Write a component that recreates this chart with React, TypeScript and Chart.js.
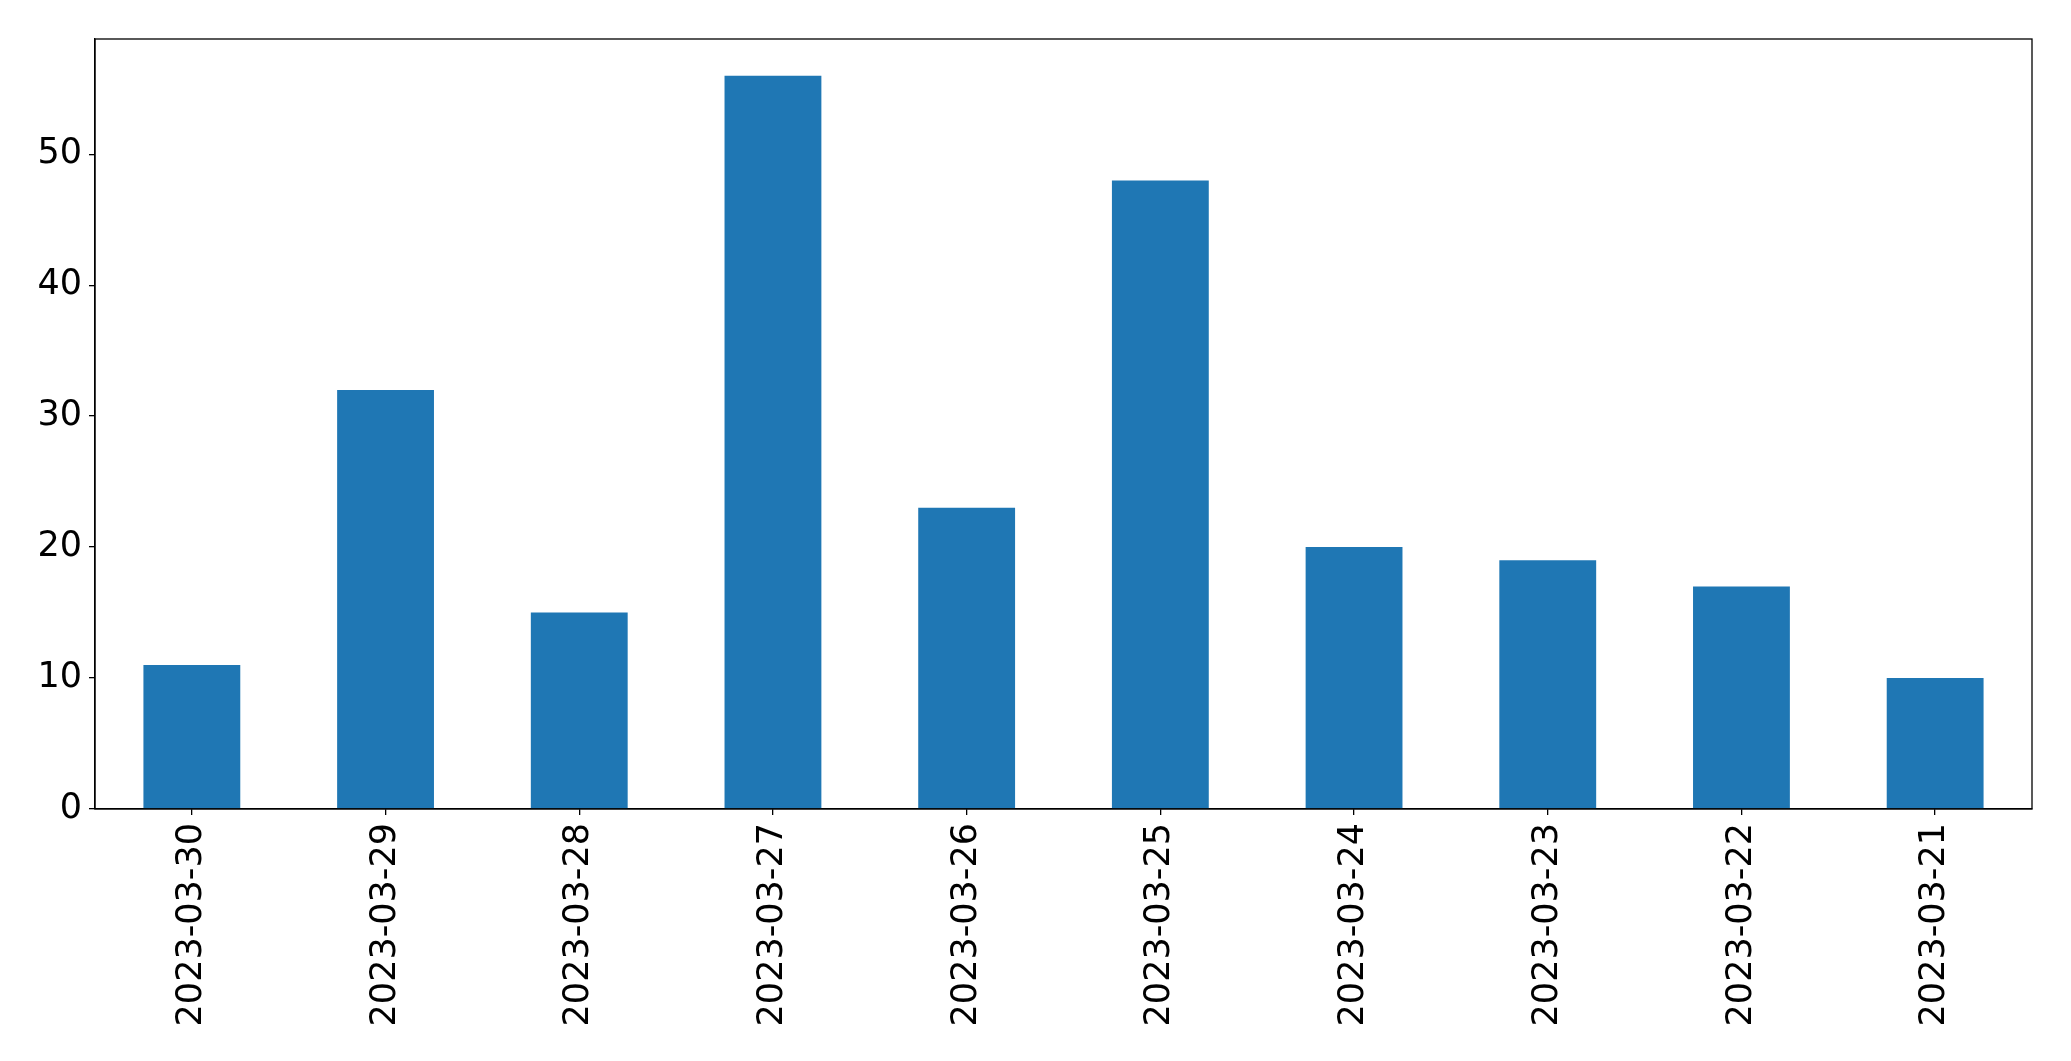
import React, { useEffect, useRef } from "react";
import { Chart, registerables } from "chart.js";

Chart.register(...registerables);

const categories = [
  "2023-03-30",
  "2023-03-29",
  "2023-03-28",
  "2023-03-27",
  "2023-03-26",
  "2023-03-25",
  "2023-03-24",
  "2023-03-23",
  "2023-03-22",
  "2023-03-21",
];
const values = [11, 32, 15, 56, 23, 48, 20, 19, 17, 10];
const yTicks = [0, 10, 20, 30, 40, 50];
const yMax = 58.8;

const FONT = "'DejaVu Sans', sans-serif";

const framePlugin = {
  id: "frame",
  afterDraw(chart: any) {
    const { ctx, chartArea } = chart;
    ctx.save();
    ctx.strokeStyle = "#000";
    ctx.lineWidth = 1.3;
    ctx.strokeRect(chartArea.left, chartArea.top, chartArea.right - chartArea.left, chartArea.bottom - chartArea.top);
    ctx.restore();
  },
};

export default function App() {
  const ref = useRef<HTMLCanvasElement | null>(null);
  useEffect(() => {
    document.body.style.margin = "0";
    const chart = new Chart(ref.current as HTMLCanvasElement, {
      type: "bar",
      data: {
        labels: categories,
        datasets: [
          {
            data: values,
            backgroundColor: "#1f77b4",
            borderWidth: 0,
            barPercentage: 0.5,
            categoryPercentage: 1,
          },
        ],
      },
      options: {
        animation: false,
        responsive: true,
        maintainAspectRatio: false,
        layout: { padding: { top: 39, right: 39, left: 0, bottom: 0 } },
        plugins: { legend: { display: false }, tooltip: { enabled: false } },
        scales: {
          x: {
            offset: true,
            grid: { display: true, offset: false, drawOnChartArea: false, drawTicks: true, tickLength: 6, color: "#000", lineWidth: 1.3 },
            border: { display: true, color: "#000", width: 1.3 },
            ticks: {
              maxRotation: 90,
              minRotation: 90,
              autoSkip: false,
              padding: 8,
              color: "#000",
              font: { family: FONT, size: 35 },
            },
            afterFit(scale: any) {
              scale.height = 252;
            },
          },
          y: {
            min: 0,
            max: yMax,
            grid: { display: true, drawOnChartArea: false, drawTicks: true, tickLength: 6, color: "#000", lineWidth: 1.3 },
            border: { display: true, color: "#000", width: 1.3 },
            ticks: {
              stepSize: 10,
              padding: 7,
              color: "#000",
              font: { family: FONT, size: 35 },
            },
            afterBuildTicks(scale: any) {
              scale.ticks = yTicks.map((v) => ({ value: v }));
            },
            afterFit(scale: any) {
              scale.width = 95;
            },
          },
        },
      },
      plugins: [framePlugin],
    });
    return () => chart.destroy();
  }, []);
  return (
    <div style={{ position: "fixed", left: 0, top: 0, width: 2071, height: 1061, background: "#fff" }}>
      <canvas ref={ref} />
    </div>
  );
}
